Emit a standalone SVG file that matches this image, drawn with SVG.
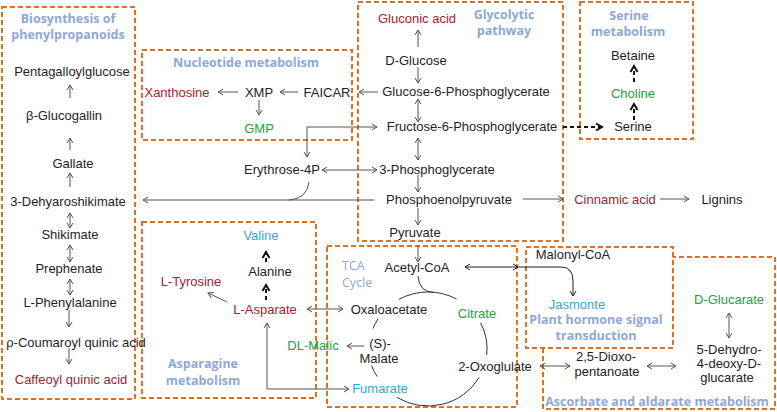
<svg xmlns="http://www.w3.org/2000/svg" width="777" height="412" viewBox="0 0 777 412">
<style>
text{font-family:"Liberation Sans",Arial,sans-serif;font-size:13px;fill:#1e1e1e;text-anchor:middle}
.t{font-family:"Open Sans","Liberation Sans",sans-serif;font-weight:bold;font-size:12.5px;fill:#8EA7D8}
.tn{font-family:"Open Sans","Liberation Sans",sans-serif;font-size:12.5px;fill:#8EA7D8;text-anchor:start}
.r{fill:#A31D2E}
.g{fill:#26A045}
.c{fill:#33A7D0}
.box{fill:none;stroke:#E0701E;stroke-width:2;stroke-dasharray:5,3}
.ln{fill:none;stroke:#555;stroke-width:1}
.dk{fill:none;stroke:#222;stroke-width:1}
.ds{fill:none;stroke:#111;stroke-width:2;stroke-dasharray:4,3}
</style>
<defs>
<marker id="a" viewBox="0 0 8 8" refX="7" refY="4" markerWidth="8" markerHeight="8" markerUnits="userSpaceOnUse" orient="auto-start-reverse"><path d="M2,1 L7,4 L2,7" fill="none" stroke="#555" stroke-width="1"/></marker>
<marker id="ak" viewBox="0 0 8 8" refX="7" refY="4" markerWidth="8" markerHeight="8" markerUnits="userSpaceOnUse" orient="auto-start-reverse"><path d="M2,1 L7,4 L2,7" fill="none" stroke="#222" stroke-width="1"/></marker>
<marker id="d" viewBox="0 0 10 10" refX="8" refY="5" markerWidth="10" markerHeight="10" markerUnits="userSpaceOnUse" orient="auto"><path d="M2,1.5 L8,5 L2,8.5" fill="none" stroke="#111" stroke-width="2"/></marker>
</defs>
<rect width="777" height="412" fill="#fff"/>
<g id="boxes">
<rect id="box-phenyl" class="box" x="2" y="7" width="133" height="392"/>
<rect id="box-nucleotide" class="box" x="142" y="50" width="210" height="90"/>
<rect id="box-glycolytic" class="box" x="358" y="2" width="205" height="239"/>
<rect id="box-serine" class="box" x="580" y="2" width="113" height="137"/>
<rect id="box-asparagine" class="box" x="142" y="222" width="174" height="176"/>
<rect id="box-tca" class="box" x="327" y="246" width="190" height="161"/>
<rect id="box-ascorbate" class="box" x="543" y="257" width="232" height="152"/>
<rect id="box-hormone" class="box" x="526" y="247" width="147" height="101" style="fill:#fff"/>
</g>
<g id="connectors">
<path class="ln" d="M70 98 V85" marker-end="url(#a)"/>
<path class="ln" d="M70 150 V138" marker-end="url(#a)"/>
<path class="ln" d="M70 187 V173" marker-end="url(#a)"/>
<path class="ln" d="M70 213 V228" marker-start="url(#a)" marker-end="url(#a)"/>
<path class="ln" d="M70 245 V262" marker-start="url(#a)" marker-end="url(#a)"/>
<path class="ln" d="M70 279 V295" marker-start="url(#a)" marker-end="url(#a)"/>
<path class="ln" d="M69 310 V327" marker-end="url(#a)"/>
<path class="ln" d="M69 348 V364" marker-end="url(#a)"/>
<path class="ln" d="M238 92 H218" marker-end="url(#a)"/>
<path class="ln" d="M298 92 H280" marker-end="url(#a)"/>
<path class="ln" d="M378 92 H359" marker-end="url(#a)"/>
<path class="ln" d="M259 100 V115" marker-end="url(#a)"/>
<path class="ln" d="M418 47 V30" marker-end="url(#a)"/>
<path class="ln" d="M418 67 V83" marker-end="url(#a)"/>
<path class="ln" d="M418 99 V122" marker-start="url(#a)" marker-end="url(#a)"/>
<path class="ln" d="M418 138 V160" marker-start="url(#a)" marker-end="url(#a)"/>
<path class="ln" d="M418 175 V192" marker-end="url(#a)"/>
<path class="ln" d="M418 208 V225" marker-end="url(#a)"/>
<path class="ln" d="M418 245 V262" marker-end="url(#a)"/>
<path class="ln" d="M377 127 H307 V157" marker-start="url(#a)" marker-end="url(#a)"/>
<path class="ln" d="M322 170 H377" marker-start="url(#a)" marker-end="url(#a)"/>
<path class="ln" d="M374 200 H143" marker-end="url(#a)"/>
<path class="ln" d="M309 182 Q307 199 289 200"/>
<path class="ln" d="M523 199 H563" marker-end="url(#a)"/>
<path class="ln" d="M660 199 H689" marker-end="url(#a)"/>
<path class="dk" d="M465 267 H518" marker-start="url(#ak)" marker-end="url(#ak)"/>
<path class="dk" d="M518 267 H561 Q573 267 573 281 V296" marker-end="url(#ak)"/>
<path class="ds" d="M563 127 H602" marker-end="url(#d)"/>
<path class="ds" d="M634 120 V104" marker-end="url(#d)"/>
<path class="ds" d="M634 82 V66" marker-end="url(#d)"/>
<path class="ds" d="M266 262 V252" marker-end="url(#d)"/>
<path class="ds" d="M266 300 V285" marker-end="url(#d)"/>
<path class="ln" d="M227 302 L208 293" marker-end="url(#a)"/>
<path class="ln" d="M307 309 H343" marker-start="url(#a)" marker-end="url(#a)"/>
<path class="ln" d="M364 346 H347" marker-end="url(#a)"/>
<path class="ln" d="M267 323 V389 H349" marker-start="url(#a)" marker-end="url(#a)"/>
<path class="ln" d="M540 366 H570" marker-start="url(#a)" marker-end="url(#a)"/>
<path class="ln" d="M647 366 H676" marker-start="url(#a)" marker-end="url(#a)"/>
<path class="ln" d="M729 313 V338" marker-start="url(#a)" marker-end="url(#a)"/>
<g id="tca-cycle" fill="none" stroke="#333" stroke-width="1">
<path d="M398.9 299.4 A59 57 0 0 1 456.6 299.1"/>
<path d="M480.6 322.9 A59 57 0 0 1 486.7 355"/>
<path d="M479.1 377.5 A59 57 0 0 1 396.7 397.3"/>
<path d="M377.2 376.6 A59 57 0 0 1 371.6 365.7"/>
<path d="M372.9 328.6 A59 57 0 0 1 378 318.8"/>
<path d="M418 276 Q419 292 434 292.5"/>
</g>
</g>
<g id="n-title-phenyl"><text class="t" x="68" y="23">Biosynthesis of</text><text class="t" x="68" y="39">phenylpropanoids</text></g>
<g id="n-title-nucleotide"><text class="t" x="246" y="67">Nucleotide metabolism</text></g>
<g id="n-title-glycolytic"><text class="t" x="504" y="19">Glycolytic</text><text class="t" x="504" y="35">pathway</text></g>
<g id="n-title-serine"><text class="t" x="629" y="20">Serine</text><text class="t" x="628" y="36">metabolism</text></g>
<g id="n-title-asparagine"><text class="t" x="203" y="368">Asparagine</text><text class="t" x="203" y="385">metabolism</text></g>
<g id="n-title-tca"><text class="tn" x="342" y="270">TCA</text><text class="tn" x="342" y="287">Cycle</text></g>
<g id="n-title-hormone"><text class="t" x="596" y="323.5">Plant hormone signal</text><text class="t" x="596" y="340">transduction</text></g>
<g id="n-title-ascorbate"><text class="t" x="657" y="406">Ascorbate and aldarate metabolism</text></g>
<g id="n-pentagalloylglucose"><text x="72" y="76">Pentagalloylglucose</text></g>
<g id="n-glucogallin"><text x="64" y="120">β-Glucogallin</text></g>
<g id="n-gallate"><text x="73" y="168">Gallate</text></g>
<g id="n-dehyaroshikimate"><text x="68" y="206">3-Dehyaroshikimate</text></g>
<g id="n-shikimate"><text x="70" y="239">Shikimate</text></g>
<g id="n-prephenate"><text x="69" y="273">Prephenate</text></g>
<g id="n-phenylalanine"><text x="70" y="307">L-Phenylalanine</text></g>
<g id="n-coumaroyl"><text x="76" y="347">ρ-Coumaroyl quinic acid</text></g>
<g id="n-caffeoyl"><text class="r" x="71" y="384">Caffeoyl quinic acid</text></g>
<g id="n-xanthosine"><text class="r" x="177" y="97">Xanthosine</text></g>
<g id="n-xmp"><text x="259" y="97">XMP</text></g>
<g id="n-faicar"><text x="327" y="97">FAICAR</text></g>
<g id="n-gmp"><text class="g" x="259" y="133">GMP</text></g>
<g id="n-gluconic"><text class="r" x="417" y="23">Gluconic acid</text></g>
<g id="n-dglucose"><text x="416" y="65">D-Glucose</text></g>
<g id="n-glucose6p"><text x="466" y="96">Glucose-6-Phosphoglycerate</text></g>
<g id="n-fructose6p"><text x="472" y="131">Fructose-6-Phosphoglycerate</text></g>
<g id="n-erythrose"><text x="282" y="174">Erythrose-4P</text></g>
<g id="n-3pg"><text x="437" y="174">3-Phosphoglycerate</text></g>
<g id="n-pep"><text x="449" y="204">Phosphoenolpyruvate</text></g>
<g id="n-cinnamic"><text class="r" x="615" y="204">Cinnamic acid</text></g>
<g id="n-lignins"><text x="722" y="204">Lignins</text></g>
<g id="n-pyruvate"><text x="415" y="237">Pyruvate</text></g>
<g id="n-acetylcoa"><text x="417" y="272">Acetyl-CoA</text></g>
<g id="n-betaine"><text x="633" y="60">Betaine</text></g>
<g id="n-choline"><text class="g" x="633" y="98">Choline</text></g>
<g id="n-serine"><text x="633" y="131">Serine</text></g>
<g id="n-valine"><text class="c" x="261" y="240">Valine</text></g>
<g id="n-alanine"><text x="270" y="276">Alanine</text></g>
<g id="n-tyrosine"><text class="r" x="191" y="286">L-Tyrosine</text></g>
<g id="n-asparate"><text class="r" x="265" y="314">L-Asparate</text></g>
<g id="n-oxaloacetate"><text x="389" y="314">Oxaloacetate</text></g>
<g id="n-citrate"><text class="g" x="477" y="318">Citrate</text></g>
<g id="n-malate"><text x="380" y="348">(S)-</text><text x="379" y="363">Malate</text></g>
<g id="n-dlmalic"><text class="g" x="313" y="350">DL-Malic</text></g>
<g id="n-fumarate"><text class="c" x="380" y="393">Fumarate</text></g>
<g id="n-oxoglulate"><text x="495" y="371">2-Oxoglulate</text></g>
<g id="n-malonylcoa"><text x="573" y="259">Malonyl-CoA</text></g>
<g id="n-jasmonte"><text class="c" x="577" y="308.5">Jasmonte</text></g>
<g id="n-dglucarate"><text class="g" x="729" y="304">D-Glucarate</text></g>
<g id="n-dioxopentanoate"><text x="606" y="361">2,5-Dioxo-</text><text x="607" y="376">pentanoate</text></g>
<g id="n-dehydrodeoxyglucarate"><text x="729" y="354">5-Dehydro-</text><text x="729" y="368">4-deoxy-D-</text><text x="727" y="382">glucarate</text></g>
</svg>
